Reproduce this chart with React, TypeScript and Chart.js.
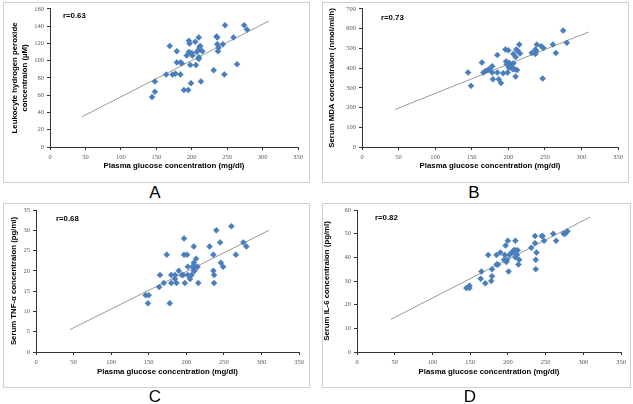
import React, { useEffect, useRef } from "react";
import { Chart, registerables } from "chart.js";
Chart.register(...registerables);

// ---------- data ----------
const xAxisTitle = "Plasma glucose concentration (mg/dl)";

const glucoseA = [144, 148, 148, 164, 169, 173, 177, 179, 179, 184, 186, 184, 189, 195, 193, 196, 197, 196, 198, 200, 201, 199, 205, 206, 207, 210, 211, 212, 210, 210, 210, 215, 213, 231, 235, 236, 236, 237, 238, 244, 246, 247, 259, 264, 274, 278];
const h2o2A = [58, 64, 76, 84, 117, 84, 85, 111, 98, 98, 97, 84, 66, 66, 106, 123, 120, 110, 95, 109, 106, 74, 122, 95, 110, 113, 116, 117, 127, 104, 102, 111, 76, 89, 128, 127, 119, 111, 115, 119, 84, 141, 127, 96, 141, 136];
const fitXA = [45, 309];
const fitYA = [35, 146];

const glucoseB = [145, 149, 164, 166, 169, 172, 174, 178, 178, 179, 185, 185, 187, 190, 193, 196, 197, 198, 200, 199, 201, 203, 201, 204, 206, 207, 207, 209, 210, 210, 211, 213, 212, 215, 216, 232, 237, 237, 238, 239, 245, 247, 248, 261, 265, 275, 280];
const mdaB = [377, 310, 428, 377, 385, 390, 394, 409, 377, 343, 466, 377, 343, 325, 374, 494, 434, 419, 490, 377, 427, 419, 402, 407, 394, 472, 424, 394, 456, 357, 494, 486, 390, 519, 474, 477, 472, 494, 486, 519, 511, 347, 502, 519, 477, 590, 528];
const fitXB = [45, 310];
const fitYB = [190, 583];

const glucoseC = [146, 150, 149, 164, 165, 170, 174, 178, 180, 180, 185, 185, 187, 190, 194, 196, 197, 197, 198, 201, 202, 202, 205, 207, 208, 210, 210, 210, 211, 212, 213, 215, 216, 231, 236, 236, 237, 237, 240, 245, 246, 249, 260, 266, 276, 280];
const tnfC = [14, 14, 12, 16, 19, 17, 24, 12, 17, 19, 18, 19, 17, 20, 19, 19, 28, 24, 17, 24, 21, 19, 18, 19, 21, 20, 22, 26, 20, 21, 23, 21, 17, 26, 24, 20, 19, 17, 30, 27, 22, 21, 31, 24, 27, 26];
const fitXC = [45, 310];
const fitYC = [5.5, 30];

const glucoseD = [145, 149, 149, 164, 165, 170, 174, 178, 179, 179, 185, 185, 187, 190, 195, 196, 197, 198, 199, 200, 201, 202, 205, 207, 208, 210, 210, 210, 212, 213, 214, 215, 231, 236, 236, 237, 237, 238, 245, 246, 248, 260, 264, 274, 276, 279];
const il6D = [27, 28, 27, 31, 34, 29, 41, 30, 35, 32, 41, 37, 37, 42, 39, 41, 45, 38, 39, 47, 34, 41, 42, 42, 43, 43, 47, 40, 41, 43, 37, 39, 44, 49, 46, 39, 35, 42, 49, 49, 47, 50, 47, 50, 50, 51];
const fitXD = [45, 309];
const fitYD = [13.8, 57];

const yTitles: (string | string[])[] = [
  ["Leukocyte hydrogen peroxide", "concentraion (\u00B5M)"],
  "Serum MDA concentraion (nmol/ml/h)",
  "Serum TNF-\u03B1 concentraion (pg/ml)",
  "Serum IL-6 concentraion (pg/ml)",
];
const rLabels = ["r=0.63", "r=0.73", "r=0.68", "r=0.82"];
const panelLetters = ["A", "B", "C", "D"];
const yMaxes = [160, 700, 35, 60];
const ySteps = [20, 100, 5, 10];

// ---------- layout ----------
type Box = { x: number; y: number; w: number; h: number };
type PanelCfg = {
  box: Box;
  plot: { l: number; t: number; r: number; b: number };
  yTitleX: number;
  xTitleY: number;
  rOff: [number, number];
  letter: [number, number];
};

const panels: PanelCfg[] = [
  { box: { x: 3, y: 2, w: 307, h: 181 }, plot: { l: 50, t: 7, r: 298, b: 147 }, yTitleX: 15, xTitleY: 165.7, rOff: [13, 7], letter: [155, 193] },
  { box: { x: 322, y: 2, w: 307, h: 181 }, plot: { l: 362, t: 7, r: 618, b: 147 }, yTitleX: 332, xTitleY: 165.7, rOff: [19, 9], letter: [474, 193] },
  { box: { x: 3, y: 203, w: 307, h: 185 }, plot: { l: 36, t: 210, r: 299, b: 352 }, yTitleX: 14, xTitleY: 371.7, rOff: [20, 9], letter: [155, 397] },
  { box: { x: 322, y: 203, w: 309, h: 185 }, plot: { l: 357, t: 210, r: 621, b: 352 }, yTitleX: 327, xTitleY: 371.7, rOff: [18, 8], letter: [470, 397] },
];

const series = [
  { xs: glucoseA, ys: h2o2A, fx: fitXA, fy: fitYA },
  { xs: glucoseB, ys: mdaB, fx: fitXB, fy: fitYB },
  { xs: glucoseC, ys: tnfC, fx: fitXC, fy: fitYC },
  { xs: glucoseD, ys: il6D, fx: fitXD, fy: fitYD },
];

const TITLE_SIZE = 7.8;
const TITLE_LH = 1.3;
const TITLE_FONT = "'Liberation Sans', Arial, sans-serif";
const TICK_FONT = "'Liberation Serif', 'Times New Roman', serif";

function Panel({ idx }: { idx: number }) {
  const ref = useRef<HTMLCanvasElement | null>(null);
  const cfg = panels[idx];
  const s = series[idx];
  useEffect(() => {
    if (!ref.current) return;
    const { box, plot } = cfg;
    const lh = TITLE_SIZE * TITLE_LH;
    const yAxisW = plot.l - box.x;
    const xAxisH = cfg.xTitleY - plot.b + lh / 2;
    const rText = rLabels[idx];
    const rPlugin = {
      id: "rlabel",
      afterDraw(chart: any) {
        const ctx = chart.ctx;
        const a = chart.chartArea;
        ctx.save();
        ctx.font = `bold ${TITLE_SIZE}px ${TITLE_FONT}`;
        ctx.fillStyle = "#000";
        ctx.textBaseline = "middle";
        ctx.textAlign = "left";
        ctx.fillText(rText, a.left + cfg.rOff[0], a.top + cfg.rOff[1]);
        ctx.restore();
      },
    };
    const chart = new Chart(ref.current, {
      type: "scatter",
      data: {
        datasets: [
          {
            data: s.xs.map((x, i) => ({ x, y: s.ys[i] })),
            pointStyle: "rectRot",
            pointRadius: 3,
            pointBackgroundColor: "#4A7EBB",
            pointBorderColor: "#4A7EBB",
            pointBorderWidth: 0.5,
            order: 0,
          },
          {
            type: "line",
            data: s.fx.map((x, i) => ({ x, y: s.fy[i] })),
            borderColor: "#9a9a9a",
            borderWidth: 1,
            pointRadius: 0,
            showLine: true,
            fill: false,
            order: 1,
          } as any,
        ],
      },
      options: {
        animation: false,
        responsive: false,
        devicePixelRatio: 1,
        layout: {
          padding: {
            left: 0,
            top: plot.t - box.y,
            right: box.x + box.w - plot.r,
            bottom: box.y + box.h - (plot.b + xAxisH),
          },
        },
        plugins: { legend: { display: false }, tooltip: { enabled: false } },
        scales: {
          x: {
            type: "linear",
            min: 0,
            max: 350,
            ticks: {
              stepSize: 50,
              maxRotation: 0,
              autoSkip: false,
              padding: 3,
              color: "#595959",
              font: { family: TICK_FONT, size: 6.5 },
            },
            grid: { drawOnChartArea: false, drawTicks: true, tickLength: 3, color: "#333" },
            border: { display: true, color: "#333", width: 1 },
            title: {
              display: true,
              text: xAxisTitle,
              color: "#000",
              padding: 0,
              font: { family: TITLE_FONT, size: TITLE_SIZE, weight: "bold", lineHeight: TITLE_LH },
            },
            afterFit: (sc: any) => {
              sc.height = xAxisH;
            },
          },
          y: {
            type: "linear",
            min: 0,
            max: yMaxes[idx],
            ticks: {
              stepSize: ySteps[idx],
              padding: 3,
              color: "#595959",
              font: { family: TICK_FONT, size: 6.5 },
            },
            grid: { drawOnChartArea: false, drawTicks: true, tickLength: 3, color: "#333" },
            border: { display: true, color: "#333", width: 1 },
            title: {
              display: true,
              text: yTitles[idx] as any,
              color: "#000",
              padding: { top: Math.max(0, cfg.yTitleX - box.x - lh / 2), bottom: 0 },
              font: { family: TITLE_FONT, size: TITLE_SIZE, weight: "bold", lineHeight: TITLE_LH },
            },
            afterFit: (sc: any) => {
              sc.width = yAxisW;
            },
          },
        },
      },
      plugins: [rPlugin],
    });
    return () => chart.destroy();
  }, []);
  const { box } = cfg;
  return (
    <>
      <div
        style={{
          position: "absolute",
          left: box.x,
          top: box.y,
          width: box.w,
          height: box.h,
          boxSizing: "border-box",
          border: "1px solid #cfcfcf",
          background: "#fff",
        }}
      />
      <canvas
        ref={ref}
        width={box.w}
        height={box.h}
        style={{ position: "absolute", left: box.x, top: box.y, width: box.w, height: box.h }}
      />
      <div
        style={{
          position: "absolute",
          left: cfg.letter[0] - 20,
          top: cfg.letter[1] - 10,
          width: 40,
          height: 20,
          lineHeight: "20px",
          textAlign: "center",
          fontFamily: TITLE_FONT,
          fontSize: 17,
          color: "#000",
        }}
      >
        {panelLetters[idx]}
      </div>
    </>
  );
}

export default function App() {
  useEffect(() => {
    document.body.style.margin = "0";
    document.body.style.background = "#fff";
  }, []);
  return (
    <div style={{ position: "relative", width: 633, height: 404, overflow: "hidden", background: "#fff" }}>
      {panels.map((_, i) => (
        <Panel key={i} idx={i} />
      ))}
    </div>
  );
}
